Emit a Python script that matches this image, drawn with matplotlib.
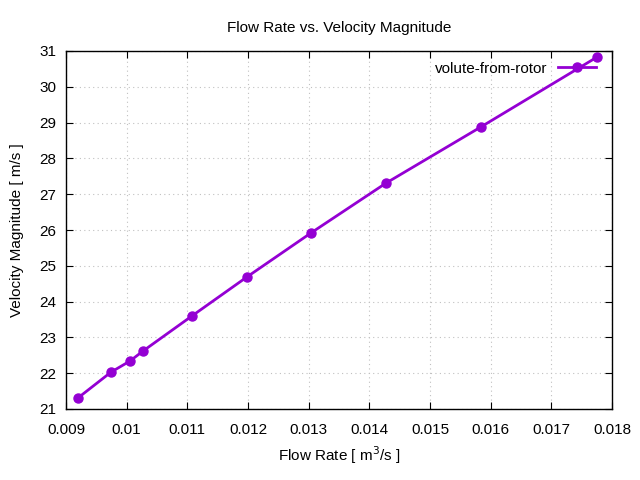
import matplotlib
matplotlib.use("Agg")
import matplotlib.pyplot as plt

flow_rate = [0.009198, 0.009742, 0.010055, 0.010270, 0.011077, 0.011984, 0.013040, 0.014275, 0.015840, 0.017753]
velocity = [21.31, 22.03, 22.34, 22.62, 23.60, 24.69, 25.92, 27.31, 28.88, 30.83]
series_name = "volute-from-rotor"

plt.rcParams['font.family'] = ['Liberation Sans', 'DejaVu Sans']
fig = plt.figure(figsize=(6.4, 4.8), dpi=100)
ax = fig.add_axes([66/640, 1-409/480, (612-66)/640, (409-51)/480])

color = '#9400D3'
ax.plot(flow_rate, velocity, '-o', color=color, lw=2, ms=6.5, label=series_name)
ax.set_xlim(0.009, 0.018)
ax.set_ylim(21, 31)
ax.set_xticks([0.009 + 0.001*i for i in range(10)])
ax.set_xticklabels(["0.009", "0.01", "0.011", "0.012", "0.013", "0.014", "0.015", "0.016", "0.017", "0.018"])
ax.set_yticks(range(21, 32))
ax.tick_params(direction='in', top=True, right=True, labelsize=11, length=5)
ax.tick_params(axis='x', pad=10)
ax.tick_params(axis='y', pad=7)
ax.grid(True, color='#c0c0c0', linestyle=(0, (1, 3)), lw=0.8)
for s in ax.spines.values():
    s.set_linewidth(1)
ax.set_title("Flow Rate vs. Velocity Magnitude", fontsize=11, pad=14)
ax.set_xlabel("Flow Rate [ m$^3$/s ]", fontsize=11, labelpad=5)
ax.set_ylabel("Velocity Magnitude [ m/s ]", fontsize=11, labelpad=11)
leg = ax.legend(loc='upper right', bbox_to_anchor=(0.99, 1.0), frameon=False, fontsize=11,
                markerfirst=False, handlelength=2.5, borderaxespad=0.3, handletextpad=0.7)
fig.savefig("out.png", dpi=100)
